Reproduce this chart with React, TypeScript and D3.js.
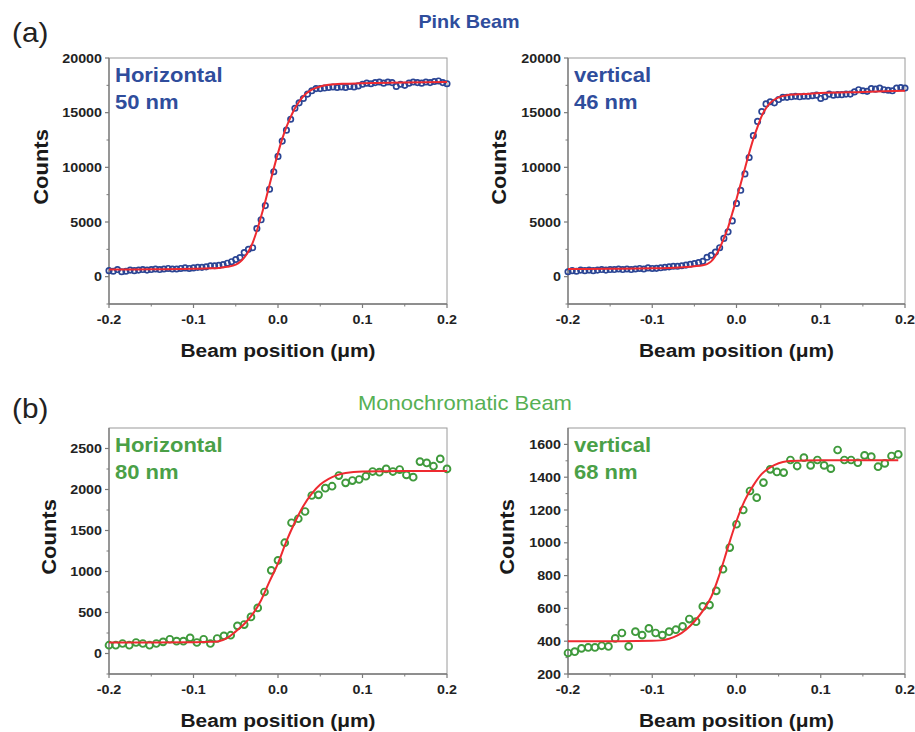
import React from "react";
import * as d3 from "d3";

// ---------- data ----------
const X_TICKS = [-0.2, -0.1, 0, 0.1, 0.2];
const X_MINOR = [-0.15, -0.05, 0.05, 0.15];

const PINK_STEP = 0.005;
const PINK_H = [
  550, 500, 650, 450, 500, 600, 550, 600, 650, 600, 650, 700, 650, 700, 750, 700, 700, 750, 800, 750, 800, 850, 850, 900,
  1000, 1000, 1030, 1100, 1230, 1370, 1570, 1750, 2200, 2500, 2650, 4400, 5200, 6500, 8000, 9600, 11000, 12400, 13400,
  14400, 15400, 15900, 16300, 16700, 17000, 17200,
  17200, 17250, 17300, 17350, 17300, 17350, 17300, 17400, 17350, 17450, 17600, 17700, 17650, 17750, 17800, 17700, 17800,
  17750, 17400, 17600, 17500, 17700, 17800, 17750, 17700, 17800, 17750, 17850, 17900, 17750, 17650,
];
const PINK_H_FIT_X = [-0.2, -0.15, -0.1, -0.08, -0.07, -0.06, -0.05, -0.045, -0.04, -0.035, -0.03, -0.025, -0.02, -0.015, -0.01, -0.005, 0, 0.005, 0.01, 0.015, 0.02, 0.025, 0.03, 0.04, 0.05, 0.06, 0.08, 0.1, 0.15, 0.2];
const PINK_H_FIT_Y = [650, 680, 720, 760, 800, 900, 1100, 1350, 1750, 2300, 3100, 4200, 5500, 6900, 8400, 9900, 11300, 12600, 13700, 14600, 15400, 16000, 16500, 17100, 17400, 17550, 17650, 17700, 17750, 17800];

const PINK_V = [
  450, 550, 500, 600, 550, 600, 550, 600, 650, 600, 650, 650, 700, 650, 700, 650, 700, 750, 700, 800, 750,
  760, 810, 860, 900, 950, 950, 1000, 1060, 1130, 1200, 1280, 1400, 1770, 1960, 2250, 2650, 3500, 4100, 5100, 6700,
  7900, 9400, 10900, 12900, 14200, 15100, 15800,
  16000, 15900, 16200, 16400, 16400, 16450, 16500, 16450, 16500, 16500, 16550, 16600, 16300, 16450, 16700, 16600,
  16650, 16650, 16700, 16700, 16900, 17100, 17000, 16950, 17200, 17150, 17250, 17100, 17050, 17000, 17250, 17300, 17250,
];
const PINK_V_FIT_X = [-0.2, -0.15, -0.1, -0.08, -0.06, -0.05, -0.04, -0.035, -0.03, -0.025, -0.02, -0.015, -0.01, -0.005, 0, 0.005, 0.01, 0.015, 0.02, 0.025, 0.03, 0.035, 0.04, 0.05, 0.06, 0.08, 0.1, 0.15, 0.2];
const PINK_V_FIT_Y = [700, 720, 760, 800, 880, 950, 1050, 1150, 1400, 1900, 2600, 3500, 4500, 5800, 7100, 8500, 9900, 11300, 12600, 13700, 14700, 15400, 15900, 16400, 16600, 16700, 16800, 16900, 17000];

const MONO_STEP = 0.008;
const MONO_H = [
  101, 101, 122, 101, 134, 122, 101, 122, 142, 174, 150, 150, 191, 134, 174, 122, 183, 215, 223, 337,
  353, 446, 556, 750, 1014, 1136, 1351, 1594, 1643, 1732, 1927, 1935, 2016, 2040, 2170, 2081, 2109, 2122, 2162, 2219,
  2211, 2251, 2219, 2243, 2178, 2150, 2340, 2324, 2284, 2373, 2251,
];
const MONO_H_FIT_X = [-0.2, -0.15, -0.1, -0.08, -0.07, -0.06, -0.05, -0.04, -0.03, -0.02, -0.01, 0, 0.01, 0.02, 0.03, 0.04, 0.05, 0.06, 0.07, 0.08, 0.1, 0.15, 0.2];
const MONO_H_FIT_Y = [135, 135, 138, 142, 150, 190, 270, 360, 480, 650, 880, 1100, 1370, 1600, 1800, 1950, 2060, 2130, 2175, 2200, 2220, 2225, 2225];

const MONO_V = [
  328, 336, 356, 362, 362, 372, 368, 417, 450, 368, 458, 437, 478, 450, 437, 458, 470, 490, 535, 519,
  612, 620, 707, 839, 971, 1113, 1200, 1316, 1275, 1367, 1448, 1432, 1428, 1505, 1468, 1519, 1472, 1505, 1472, 1452,
  1566, 1505, 1505, 1488, 1533, 1525, 1464, 1484, 1529, 1539,
];
const MONO_V_FIT_X = [-0.2, -0.15, -0.1, -0.09, -0.08, -0.07, -0.06, -0.05, -0.04, -0.03, -0.02, -0.01, 0, 0.01, 0.02, 0.03, 0.04, 0.05, 0.06, 0.08, 0.1, 0.15, 0.192];
const MONO_V_FIT_Y = [400, 400, 402, 405, 415, 435, 470, 520, 585, 670, 810, 975, 1133, 1260, 1350, 1420, 1460, 1485, 1497, 1502, 1503, 1503, 1503];

const PINK_Y_TICKS = [0, 5000, 10000, 15000, 20000];
const PINK_Y_MINOR = [-2500, 2500, 7500, 12500, 17500];
const MONO_H_Y_TICKS = [0, 500, 1000, 1500, 2000, 2500];
const MONO_H_Y_MINOR = [-250, 250, 750, 1250, 1750, 2250];
const MONO_V_Y_TICKS = [200, 400, 600, 800, 1000, 1200, 1400, 1600];
const MONO_V_Y_MINOR = [300, 500, 700, 900, 1100, 1300, 1500];

// ---------- style ----------
const FONT = "'Liberation Sans', Arial, sans-serif";
const ST = 1.1;
const BLUE = "#2a4594";
const BLUE_LABEL = "#2f4d9c";
const GREEN = "#3f9a3c";
const GREEN_LABEL = "#4aa047";
const GREEN_TITLE = "#56b054";
const RED = "#ee2a30";

function T({ x, y, children, size, weight = "bold", anchor = "start", fill = "#1a1a1a", rotate = 0 }: any) {
  return (
    <g transform={`translate(${x},${y}) ${rotate ? `rotate(${rotate})` : ""} scale(${ST},1)`}>
      <text fontFamily={FONT} fontSize={size} fontWeight={weight} textAnchor={anchor} fill={fill}>
        {children}
      </text>
    </g>
  );
}

function Panel({ box, yDomain, yTicks, yMinor, data, step, fitX, fitY, color, r, sw, label1, label2, labelColor, countsX }: any) {
  const [x0, x1, y0, y1] = box;
  const xs = d3.scaleLinear().domain([-0.2, 0.2]).range([x0, x1]);
  const ys = d3.scaleLinear().domain(yDomain).range([y1, y0]);
  const line = d3
    .line<number>()
    .x((_, i) => xs(fitX[i]))
    .y((d) => ys(d))
    .curve(d3.curveMonotoneX);
  const axisC = "#7a7a7a";
  const fmtX = (v: number) => (v === 0 ? "0.0" : d3.format(".1f")(v).replace("−", "-"));
  return (
    <g>
      <rect x={x0} y={y0} width={x1 - x0} height={y1 - y0} fill="none" stroke="#9a9a9a" strokeWidth={1} />
      <line x1={x0} x2={x0} y1={y0} y2={y1} stroke={axisC} strokeWidth={1.3} />
      <line x1={x0} x2={x1} y1={y1} y2={y1} stroke={axisC} strokeWidth={1.3} />
      {yTicks.map((t: number) => (
        <g key={"yt" + t}>
          <line x1={x0 - 4} x2={x0} y1={ys(t)} y2={ys(t)} stroke={axisC} strokeWidth={1.2} />
          <T x={x0 - 7} y={ys(t) + 4.5} size={13} anchor="end" fill="#222">
            {t}
          </T>
        </g>
      ))}
      {yMinor.map((t: number) => (
        <line key={"ym" + t} x1={x0 - 2.5} x2={x0} y1={ys(t)} y2={ys(t)} stroke={axisC} strokeWidth={1} />
      ))}
      {X_TICKS.map((t) => (
        <g key={"xt" + t}>
          <line x1={xs(t)} x2={xs(t)} y1={y1} y2={y1 + 4} stroke={axisC} strokeWidth={1.2} />
          <T x={xs(t)} y={y1 + 20} size={13} anchor="middle" fill="#222">
            {fmtX(t)}
          </T>
        </g>
      ))}
      {X_MINOR.map((t) => (
        <line key={"xm" + t} x1={xs(t)} x2={xs(t)} y1={y1} y2={y1 + 2.5} stroke={axisC} strokeWidth={1} />
      ))}
      {data.map((v: number, i: number) => (
        <circle key={"p" + i} cx={xs(-0.2 + i * step)} cy={ys(v)} r={r} fill="none" stroke={color} strokeWidth={sw} />
      ))}
      <path d={line(fitY) || ""} fill="none" stroke={RED} strokeWidth={2} />
      <T x={x0 + 6} y={y0 + 24} size={20} fill={labelColor}>
        {label1}
      </T>
      <T x={x0 + 6} y={y0 + 51} size={20} fill={labelColor}>
        {label2}
      </T>
      <T x={countsX} y={(y0 + y1) / 2 - 14} size={20} anchor="middle" rotate={-90}>
        Counts
      </T>
      <T x={(x0 + x1) / 2} y={y1 + 53} size={19} anchor="middle">
        Beam position (μm)
      </T>
    </g>
  );
}

export default function App() {
  return (
    <svg width={915} height={732} style={{ position: "absolute", left: 0, top: 0, background: "#fff" }}>
      <rect width={915} height={732} fill="#fff" />
      <T x={12} y={42} size={27} weight="normal" fill="#222">(a)</T>
      <T x={12} y={418} size={27} weight="normal" fill="#222">(b)</T>
      <T x={469} y={28} size={18} anchor="middle" fill={BLUE_LABEL}>Pink Beam</T>
      <T x={465} y={410} size={20} weight="normal" anchor="middle" fill={GREEN_TITLE}>Monochromatic Beam</T>

      <Panel box={[109, 447, 58, 304]} yDomain={[-2500, 20000]} yTicks={PINK_Y_TICKS} yMinor={PINK_Y_MINOR}
        data={PINK_H} step={PINK_STEP} fitX={PINK_H_FIT_X} fitY={PINK_H_FIT_Y} color={BLUE} r={2.7} sw={1.7}
        label1="Horizontal" label2="50 nm" labelColor={BLUE_LABEL} countsX={48} />
      <Panel box={[568, 905, 58, 304]} yDomain={[-2500, 20000]} yTicks={PINK_Y_TICKS} yMinor={PINK_Y_MINOR}
        data={PINK_V} step={PINK_STEP} fitX={PINK_V_FIT_X} fitY={PINK_V_FIT_Y} color={BLUE} r={2.7} sw={1.7}
        label1="vertical" label2="46 nm" labelColor={BLUE_LABEL} countsX={506} />
      <Panel box={[109, 447, 428, 674]} yDomain={[-250, 2750]} yTicks={MONO_H_Y_TICKS} yMinor={MONO_H_Y_MINOR}
        data={MONO_H} step={MONO_STEP} fitX={MONO_H_FIT_X} fitY={MONO_H_FIT_Y} color={GREEN} r={3.4} sw={1.9}
        label1="Horizontal" label2="80 nm" labelColor={GREEN_LABEL} countsX={56} />
      <Panel box={[568, 905, 428, 674]} yDomain={[200, 1700]} yTicks={MONO_V_Y_TICKS} yMinor={MONO_V_Y_MINOR}
        data={MONO_V} step={MONO_STEP} fitX={MONO_V_FIT_X} fitY={MONO_V_FIT_Y} color={GREEN} r={3.4} sw={1.9}
        label1="vertical" label2="68 nm" labelColor={GREEN_LABEL} countsX={514} />
    </svg>
  );
}
